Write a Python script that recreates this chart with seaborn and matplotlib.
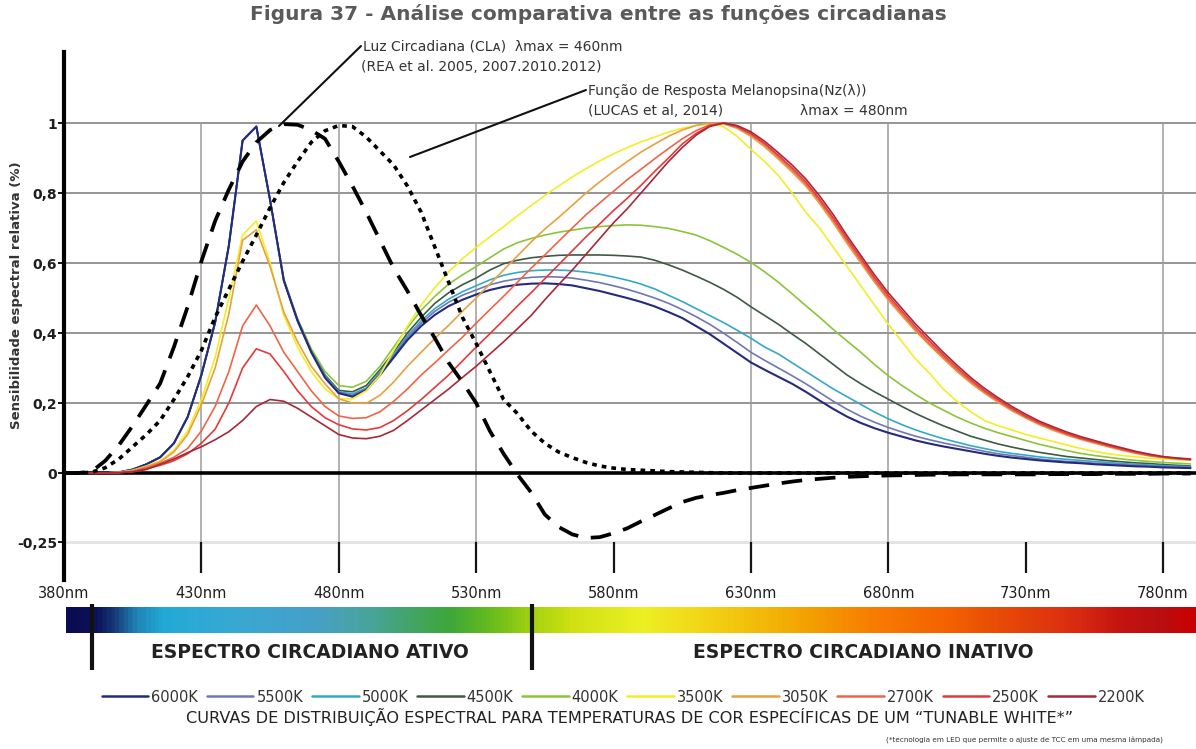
import numpy as np
import pandas as pd
import matplotlib
matplotlib.use("Agg")
import matplotlib.pyplot as plt
from matplotlib.lines import Line2D
from matplotlib.colors import LinearSegmentedColormap
import seaborn as sns

# ---------------------------------------------------------------- data
wavelength = np.arange(380, 795, 5)  # nm, 380 ... 790

s6000 = [0, 0, 0, 0, 0.002, 0.01, 0.025, 0.045, 0.085, 0.16,
         0.28, 0.43, 0.65, 0.95, 0.99, 0.78, 0.55, 0.435, 0.345, 0.272,
         0.228, 0.218, 0.237, 0.28, 0.33, 0.38, 0.42, 0.452, 0.477, 0.495,
         0.51, 0.523, 0.532, 0.538, 0.541, 0.542, 0.54, 0.536, 0.528, 0.52,
         0.51, 0.5, 0.489, 0.476, 0.46, 0.443, 0.42, 0.397, 0.37, 0.343,
         0.316, 0.295, 0.275, 0.255, 0.232, 0.207, 0.183, 0.161, 0.143, 0.128,
         0.115, 0.104, 0.093, 0.084, 0.076, 0.069, 0.062, 0.055, 0.049, 0.044,
         0.04, 0.036, 0.033, 0.03, 0.028, 0.025, 0.023, 0.021, 0.019, 0.018,
         0.016, 0.015, 0.014]
s5500 = [0, 0, 0, 0, 0.002, 0.01, 0.025, 0.045, 0.085, 0.16,
         0.28, 0.43, 0.65, 0.95, 0.99, 0.78, 0.55, 0.435, 0.345, 0.275,
         0.23, 0.222, 0.24, 0.285, 0.335, 0.387, 0.428, 0.462, 0.488, 0.508,
         0.523, 0.538, 0.548, 0.555, 0.559, 0.561, 0.56, 0.557, 0.551, 0.544,
         0.535, 0.525, 0.513, 0.5, 0.485, 0.467, 0.447, 0.425, 0.4, 0.373,
         0.345, 0.322, 0.3, 0.278, 0.255, 0.23, 0.205, 0.182, 0.162, 0.145,
         0.13, 0.117, 0.105, 0.095, 0.086, 0.078, 0.07, 0.062, 0.055, 0.05,
         0.045, 0.04, 0.036, 0.033, 0.031, 0.028, 0.026, 0.024, 0.022, 0.02,
         0.018, 0.017, 0.016]
s5000 = [0, 0, 0, 0, 0.002, 0.01, 0.025, 0.045, 0.085, 0.16,
         0.28, 0.43, 0.65, 0.95, 0.99, 0.78, 0.55, 0.435, 0.345, 0.277,
         0.232, 0.226, 0.243, 0.288, 0.34, 0.392, 0.435, 0.47, 0.497, 0.518,
         0.535, 0.552, 0.565, 0.573, 0.578, 0.58, 0.58, 0.578, 0.574, 0.568,
         0.56, 0.551, 0.54, 0.526, 0.508, 0.49, 0.47, 0.45, 0.43, 0.408,
         0.385, 0.36, 0.34, 0.315, 0.29, 0.265, 0.24, 0.218, 0.196, 0.174,
         0.155, 0.138, 0.123, 0.11, 0.098, 0.088, 0.078, 0.07, 0.062, 0.056,
         0.051, 0.046, 0.042, 0.039, 0.036, 0.033, 0.03, 0.027, 0.025, 0.023,
         0.021, 0.019, 0.018]
s4500 = [0, 0, 0, 0, 0.002, 0.01, 0.025, 0.045, 0.085, 0.16,
         0.28, 0.43, 0.65, 0.95, 0.99, 0.78, 0.55, 0.437, 0.348, 0.28,
         0.236, 0.232, 0.25, 0.295, 0.345, 0.4, 0.445, 0.485, 0.515, 0.538,
         0.557, 0.58, 0.598, 0.608, 0.615, 0.619, 0.622, 0.623, 0.623, 0.623,
         0.622, 0.62, 0.617, 0.608, 0.595, 0.58, 0.563, 0.545, 0.525, 0.502,
         0.475, 0.45, 0.425, 0.397, 0.37, 0.34, 0.31, 0.28, 0.255, 0.232,
         0.211, 0.19, 0.17, 0.152, 0.135, 0.12, 0.105, 0.094, 0.083, 0.074,
         0.066, 0.059, 0.053, 0.047, 0.043, 0.039, 0.035, 0.032, 0.029, 0.027,
         0.024, 0.022, 0.02]
s4000 = [0, 0, 0, 0, 0.002, 0.01, 0.025, 0.045, 0.085, 0.16,
         0.28, 0.43, 0.65, 0.95, 0.99, 0.78, 0.555, 0.442, 0.355, 0.29,
         0.25, 0.245, 0.262, 0.305, 0.36, 0.415, 0.465, 0.505, 0.54, 0.566,
         0.59, 0.615, 0.64, 0.658, 0.67, 0.68, 0.688, 0.694, 0.7, 0.704,
         0.707, 0.709, 0.708, 0.704, 0.699, 0.69, 0.68, 0.664, 0.645, 0.625,
         0.602, 0.575, 0.545, 0.512, 0.478, 0.445, 0.41, 0.377, 0.345, 0.31,
         0.278, 0.25, 0.224, 0.2, 0.18, 0.16, 0.143, 0.128, 0.115, 0.104,
         0.093, 0.082, 0.073, 0.064, 0.056, 0.05, 0.045, 0.04, 0.036, 0.033,
         0.03, 0.028, 0.026]
s3500 = [0, 0, 0, 0, 0.002, 0.008, 0.02, 0.035, 0.065, 0.12,
         0.21, 0.33, 0.5, 0.68, 0.72, 0.6, 0.45, 0.36, 0.29, 0.24,
         0.212, 0.212, 0.235, 0.28, 0.35, 0.42, 0.48, 0.53, 0.575, 0.612,
         0.645, 0.675, 0.704, 0.735, 0.764, 0.793, 0.82, 0.846, 0.87, 0.892,
         0.912, 0.93, 0.946, 0.96, 0.974, 0.985, 0.993, 0.998, 0.99, 0.962,
         0.925, 0.89, 0.85, 0.8, 0.745, 0.7, 0.645, 0.59, 0.535, 0.48,
         0.425, 0.375, 0.325, 0.285, 0.24, 0.205, 0.175, 0.15, 0.135, 0.123,
         0.11, 0.1, 0.09, 0.08, 0.07, 0.062, 0.055, 0.05, 0.046, 0.042,
         0.04, 0.038, 0.037]
s3050 = [0, 0, 0, 0, 0.002, 0.007, 0.018, 0.032, 0.06, 0.11,
         0.195, 0.3, 0.455, 0.665, 0.695, 0.59, 0.46, 0.375, 0.305, 0.255,
         0.212, 0.2, 0.199, 0.222, 0.26, 0.305, 0.345, 0.385, 0.422, 0.462,
         0.5, 0.54, 0.58, 0.62, 0.66, 0.697, 0.73, 0.765, 0.8, 0.832,
         0.862, 0.89, 0.917, 0.94, 0.962, 0.98, 0.993, 1.0, 0.998, 0.985,
         0.962, 0.932, 0.897, 0.86, 0.82, 0.77, 0.715, 0.656, 0.6, 0.545,
         0.494, 0.449, 0.405, 0.365, 0.327, 0.29, 0.257, 0.228, 0.202, 0.178,
         0.157, 0.138, 0.122, 0.108, 0.096, 0.085, 0.075, 0.065, 0.056, 0.049,
         0.044, 0.04, 0.037]
s2700 = [0, 0, 0, 0, 0.001, 0.005, 0.015, 0.028, 0.045, 0.07,
         0.12, 0.19, 0.29, 0.42, 0.48, 0.42, 0.345, 0.29, 0.235, 0.19,
         0.163, 0.156, 0.158, 0.175, 0.205, 0.24, 0.28, 0.315, 0.352, 0.388,
         0.428, 0.467, 0.505, 0.545, 0.585, 0.623, 0.662, 0.7, 0.738, 0.772,
         0.805, 0.838, 0.868, 0.898, 0.927, 0.955, 0.978, 0.995, 1.0, 0.988,
         0.967, 0.938, 0.903, 0.866, 0.826, 0.777, 0.722, 0.663, 0.607, 0.551,
         0.5, 0.455, 0.41, 0.37, 0.332, 0.295, 0.262, 0.232, 0.206, 0.181,
         0.16, 0.141, 0.125, 0.111, 0.098, 0.088, 0.077, 0.067, 0.058, 0.05,
         0.045, 0.041, 0.038]
s2500 = [0, 0, 0, 0, 0.001, 0.004, 0.012, 0.022, 0.035, 0.055,
         0.085, 0.125, 0.2, 0.3, 0.355, 0.34, 0.29, 0.235, 0.19, 0.158,
         0.138, 0.126, 0.123, 0.13, 0.15, 0.178, 0.21, 0.245, 0.28, 0.32,
         0.36, 0.398, 0.437, 0.477, 0.515, 0.555, 0.595, 0.635, 0.675, 0.712,
         0.75, 0.785, 0.822, 0.862, 0.9, 0.94, 0.97, 0.992, 1.0, 0.99,
         0.97, 0.942, 0.908, 0.872, 0.832, 0.783, 0.729, 0.67, 0.614, 0.558,
         0.507, 0.462, 0.417, 0.377, 0.338, 0.301, 0.267, 0.236, 0.21, 0.185,
         0.163, 0.144, 0.128, 0.113, 0.1, 0.09, 0.079, 0.069, 0.06, 0.052,
         0.046, 0.042, 0.039]
s2200 = [0, 0, 0, 0, 0.001, 0.003, 0.01, 0.025, 0.04, 0.058,
         0.075, 0.095, 0.118, 0.15, 0.19, 0.21, 0.205, 0.185, 0.16, 0.135,
         0.11, 0.1, 0.098, 0.105, 0.122, 0.15, 0.18, 0.21, 0.24, 0.273,
         0.305, 0.34, 0.375, 0.412, 0.45, 0.495, 0.538, 0.58, 0.625, 0.67,
         0.715, 0.755, 0.8, 0.845, 0.89, 0.93, 0.965, 0.99, 1.0, 0.993,
         0.975, 0.948, 0.915, 0.88, 0.84, 0.792, 0.738, 0.678, 0.622, 0.566,
         0.515, 0.47, 0.425, 0.385, 0.345, 0.308, 0.273, 0.242, 0.215, 0.19,
         0.168, 0.148, 0.132, 0.117, 0.104, 0.093, 0.082, 0.072, 0.062, 0.054,
         0.047, 0.043, 0.04]

# circadian light (CLA) and melanopsin response functions
cla = [0, 0, 0.004, 0.035, 0.08, 0.135, 0.195, 0.256, 0.36, 0.475,
       0.605, 0.72, 0.81, 0.89, 0.945, 0.98, 0.997, 0.995, 0.98, 0.955,
       0.89, 0.82, 0.745, 0.665, 0.585, 0.52, 0.45, 0.385, 0.315, 0.26,
       0.2, 0.12, 0.055, -0.005, -0.07, -0.15, -0.195, -0.222, -0.235, -0.232,
       -0.218, -0.2, -0.175, -0.152, -0.128, -0.105, -0.09, -0.08, -0.072, -0.062,
       -0.054, -0.046, -0.038, -0.031, -0.025, -0.021, -0.017, -0.014, -0.012, -0.01,
       -0.009, -0.008, -0.007, -0.006, -0.006, -0.005, -0.005, -0.005, -0.005, -0.005,
       -0.005, -0.005, -0.004, -0.004, -0.004, -0.004, -0.003, -0.003, -0.003, -0.003,
       -0.002, -0.002, -0.002]
melanopsina = [0, 0, 0.002, 0.015, 0.04, 0.075, 0.11, 0.15, 0.21, 0.275,
               0.35, 0.445, 0.525, 0.605, 0.68, 0.758, 0.83, 0.89, 0.945, 0.978,
               0.993, 0.99, 0.96, 0.92, 0.88, 0.82, 0.745, 0.645, 0.545, 0.445,
               0.37, 0.29, 0.21, 0.17, 0.12, 0.085, 0.06, 0.044, 0.03, 0.02,
               0.014, 0.01, 0.008, 0.006, 0.004, 0.003, 0.002, 0.001, 0, 0,
               0, 0, 0, 0, 0, 0, 0, 0, 0, 0,
               0, 0, 0, 0, 0, 0, 0, 0, 0, 0,
               0, 0, 0, 0, 0, 0, 0, 0, 0, 0,
               0, 0, 0]

temperaturas = ["6000K", "5500K", "5000K", "4500K", "4000K",
                "3500K", "3050K", "2700K", "2500K", "2200K"]
curvas = [s6000, s5500, s5000, s4500, s4000,
          s3500, s3050, s2700, s2500, s2200]
cores = ["#262a7e", "#6e78b4", "#34a9c6", "#3d5a44", "#8cc43c",
         "#f2ee24", "#e8a040", "#f06448", "#e43a3a", "#a82838"]

x_ticks = [380, 430, 480, 530, 580, 630, 680, 730, 780]
x_ticklabels = [f"{v}nm" for v in x_ticks]
x_grid = [430, 480, 530, 630, 680, 780]
y_ticks = [-0.25, 0, 0.2, 0.4, 0.6, 0.8, 1.0]
y_ticklabels = ["-0,25", "0", "0,2", "0,4", "0,6", "0,8", "1"]

# spectrum bar colour stops (nm, colour)
barra_nm = [380, 390, 397, 405, 415, 440, 470, 490, 505, 520, 535, 550, 565,
            590, 610, 635, 655, 675, 700, 720, 745, 765, 780, 792]
barra_cor = ["#0a0c50", "#0c1258", "#163a78", "#1f86b8", "#22aad6", "#38a8d4",
             "#46a0c8", "#48a49c", "#44a468", "#3ea838", "#68bc1c", "#a6d210",
             "#d0e214", "#ecf022", "#f2d818", "#f2b808", "#f49a00", "#f87c00",
             "#f46400", "#e84c06", "#dc3010", "#c41410", "#b80e10", "#cc0000"]

# ---------------------------------------------------------------- style
sns.set_theme(style="white")
plt.rcParams["font.family"] = ["DejaVu Sans"]

W, H = 1196, 749
fig = plt.figure(figsize=(W / 100, H / 100), dpi=100)


def fx(x):
    return x / W


def fy(y):
    return 1 - y / H


ax = fig.add_axes([fx(64), fy(580), (W - 64) / W, (580 - 52) / H])

# negative part of the axis is drawn compressed
NEG = 0.79


def fwd(v):
    v = np.asarray(v, dtype=float)
    return np.where(v < 0, v * NEG, v)


def inv(v):
    v = np.asarray(v, dtype=float)
    return np.where(v < 0, v / NEG, v)


ax.set_yscale("function", functions=(fwd, inv))
ax.set_xlim(380, 792)
ax.set_ylim(-0.387, 1.203)

# grid
ax.hlines([0.2, 0.4, 0.6, 0.8, 1.0], 380, 792, color="#8c8c8c", lw=1.3, zorder=0.5)
ax.hlines(-0.25, 380, 792, color="#e4e4e4", lw=2.2, zorder=0.5)
ax.vlines(x_grid, -0.25, 1.0, color="#9c9c9c", lw=1.1, zorder=0.5)
ax.vlines(x_ticks[1:], -0.25, -0.362, color="#151515", lw=1.6, zorder=0.6)
ax.axhline(0, color="black", lw=2.6, zorder=1.5)

# LED spectra (cool curves drawn so that 6000K ends on top of them)
ordem = [4, 3, 2, 1, 0, 5, 6, 7, 8, 9]
for i in ordem:
    sns.lineplot(x=wavelength, y=curvas[i], color=cores[i],
                 lw=1.5 if i == 0 else 1.2, ax=ax, zorder=2,
                 estimator=None, sort=False)

# circadian functions
sns.lineplot(x=wavelength, y=cla, color="black", lw=2.7, ax=ax, zorder=3,
             estimator=None, sort=False)
ax.lines[-1].set_dashes([5.5, 3.4])
sns.lineplot(x=wavelength, y=melanopsina, color="black", lw=2.6, ax=ax,
             zorder=3, estimator=None, sort=False)
ax.lines[-1].set_dashes([1.3, 1.4])

# axes decoration
for s in ["top", "right", "bottom"]:
    ax.spines[s].set_visible(False)
ax.spines["left"].set_color("black")
ax.spines["left"].set_linewidth(3)
ax.set_xticks(x_ticks)
ax.set_xticklabels(x_ticklabels)
ax.set_yticks(y_ticks)
ax.set_yticklabels(y_ticklabels)
ax.tick_params(axis="x", length=0, pad=4, labelsize=10.5, labelcolor="#1e1e1e")
ax.tick_params(axis="y", length=4, width=1.3, pad=1, labelsize=10,
               labelcolor="#1e1e1e", color="black", left=True)
for lbl in ax.get_yticklabels():
    lbl.set_fontweight("bold")
ax.set_xlabel("")
ax.set_ylabel("")
ax.grid(False)

# spectrum bar
ax_bar = fig.add_axes([fx(64), fy(672), (W - 64) / W, (672 - 600) / H])
pos = [(n - 380) / (792 - 380) for n in barra_nm]
cmap = LinearSegmentedColormap.from_list("espectro", list(zip(pos, barra_cor)))
grad = np.linspace(380, 792, 1000)[None, :]
ax_bar.imshow(grad, extent=[380.7, 792, 633, 607], aspect="auto", cmap=cmap,
              vmin=380, vmax=792, interpolation="bilinear")
ax_bar.vlines([390.2, 550.3], 604, 670, color="#111111", lw=3)
ax_bar.set_xlim(380, 792)
ax_bar.set_ylim(672, 600)
ax_bar.axis("off")

fig.text(fx(310), fy(653), "ESPECTRO CIRCADIANO ATIVO", ha="center",
         va="center", fontsize=13.5, weight="bold", color="#222222")
fig.text(fx(863), fy(653), "ESPECTRO CIRCADIANO INATIVO", ha="center",
         va="center", fontsize=13.5, weight="bold", color="#222222")

# titles and labels
fig.text(fx(598), fy(14), "Figura 37 - Análise comparativa entre as funções circadianas",
         ha="center", va="center", fontsize=14.5, weight="bold", color="#5a5a5a")
fig.text(fx(17), fy(295), "Sensibilidade espectral relativa (%)", rotation=90,
         ha="center", va="center", fontsize=9.5, weight="bold", color="#333333")

# annotations
anot = dict(ha="left", va="center", fontsize=10, color="#333333")
fig.text(fx(363), fy(47), "Luz Circadiana (CLᴀ)  λmax = 460nm", **anot)
fig.text(fx(361), fy(67), "(REA et al. 2005, 2007.2010.2012)", **anot)
fig.text(fx(588), fy(91), "Função de Resposta Melanopsina(Nz(λ))", **anot)
fig.text(fx(588), fy(111), "(LUCAS et al, 2014)", **anot)
fig.text(fx(800), fy(111), "λmax = 480nm", **anot)
fig.add_artist(Line2D([fx(361), fx(279)], [fy(46), fy(126)], color="#111111", lw=1.5))
fig.add_artist(Line2D([fx(586), fx(410)], [fy(90), fy(157)], color="#111111", lw=1.5))

# legend
handles = [Line2D([0], [0], color=c, lw=1.8) for c in cores]
fig.legend(handles, temperaturas, loc="center", bbox_to_anchor=(fx(623), fy(697)),
           ncol=10, frameon=False, fontsize=10.5, handlelength=3.2,
           handletextpad=0.2, columnspacing=0.6, labelcolor="#333333",
           borderaxespad=0, borderpad=0)
fig.text(fx(630), fy(717),
         "CURVAS DE DISTRIBUIÇÃO ESPECTRAL PARA TEMPERATURAS DE COR ESPECÍFICAS DE UM “TUNABLE WHITE*”",
         ha="center", va="center", fontsize=11.6, color="#222222")
fig.text(fx(1163), fy(740),
         "(*tecnologia em LED que permite o ajuste de TCC em uma mesma lâmpada)",
         ha="right", va="center", fontsize=5.2, color="#333333")

fig.savefig("out.png", dpi=100)
